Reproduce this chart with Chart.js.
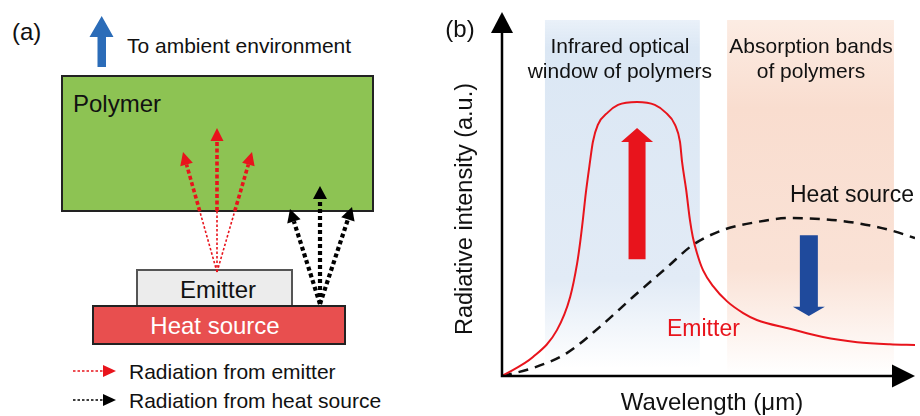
<!DOCTYPE html>
<html>
<head>
<meta charset="utf-8">
<script src="https://cdn.jsdelivr.net/npm/chart.js@4.4.0/dist/chart.umd.min.js"></script>
<style>
html, body { margin: 0; padding: 0; background: #fff; }
#wrap { position: relative; width: 920px; height: 416px; overflow: hidden; font-family: "Liberation Sans", Arial, sans-serif; }
#panelA { position: absolute; left: 0; top: 0; }
#panelB { position: absolute; left: 440px; top: 0; width: 480px; height: 416px; }
</style>
</head>
<body>
<div id="wrap">
  <svg id="panelA" width="440" height="416" xmlns="http://www.w3.org/2000/svg"></svg>
  <div id="panelB"><canvas id="spectrum" width="480" height="416"></canvas></div>
</div>
<script>
// spectra (wavelength and intensity both in a.u., 0-100)
const emitterWavelength = [0, 7.5, 13.3, 16.5, 18.2, 18.9, 19.6, 20.3, 21.3, 22.0, 23.2, 25.7, 28.1, 32.7, 37.0, 39.5, 41.9, 43.1, 43.6, 44.6, 45.5, 46.2, 47.2, 48.7, 51.1, 54.5, 58.4, 61.7, 69.7, 77.7, 86.0, 93.9, 100];
const emitterIntensity = [0, 5.2, 12.6, 21.7, 31.0, 36.5, 43.1, 50.3, 58.8, 64.3, 69.0, 72.5, 74.5, 75.3, 74.5, 72.5, 69.0, 64.3, 58.8, 51.1, 42.9, 38.2, 33.8, 29.0, 24.7, 20.5, 17.3, 15.4, 13.0, 10.7, 9.3, 8.7, 8.5];

const heatWavelength = [0, 7.5, 15.7, 23.7, 31.7, 40.0, 46.2, 53.5, 61.7, 69.7, 77.7, 86.0, 93.9, 100];
const heatIntensity = [0, 2.2, 6.3, 13.5, 21.7, 29.9, 36.0, 40.1, 42.3, 43.4, 43.1, 42.0, 40.1, 37.9];

// shaded wavelength bands
const bandStart = [10.4, 54.5];
const bandEnd = [47.9, 94.9];
const bandLabels = [["Infrared optical", "window of polymers"], ["Absorption bands", "of polymers"]];

const FONT = '"Liberation Sans", Arial, sans-serif';
const RED = "#e8141c";

// ---------- panel (a) : layer diagram ----------
const NS = "http://www.w3.org/2000/svg";
const svg = document.getElementById("panelA");

function el(tag, attrs, text) {
    const n = document.createElementNS(NS, tag);
    for (const k in attrs) n.setAttribute(k, attrs[k]);
    if (text) n.textContent = text;
    svg.appendChild(n);
    return n;
}

function txt(x, y, s, size, opts = {}) {
    return el("text", Object.assign({
        x: x, y: y, "font-size": size, "font-family": FONT,
        "dominant-baseline": "central", fill: "#111"
    }, opts), s);
}

function head(x0, y0, x1, y1, len, w, color) {
    const d = Math.hypot(x1 - x0, y1 - y0);
    const ux = (x1 - x0) / d, uy = (y1 - y0) / d;
    const bx = x1 - ux * len, by = y1 - uy * len;
    const pts = [[x1, y1], [bx - uy * w / 2, by + ux * w / 2], [bx + uy * w / 2, by - ux * w / 2]];
    el("polygon", { points: pts.map(p => p.join(",")).join(" "), fill: color });
    return [bx, by];
}

function seg(x0, y0, x1, y1, color, width, dash) {
    el("line", { x1: x0, y1: y0, x2: x1, y2: y1, stroke: color, "stroke-width": width, "stroke-dasharray": dash });
}

txt(12, 31, "(a)", 24);

// upward arrow to ambient
el("polygon", { points: "97.5,67 106,67 106,37 113.5,37 101.7,16 89.5,37 97.5,37", fill: "#2b6cb8" });
txt(127, 45, "To ambient environment", 21);

el("rect", { x: 62, y: 76, width: 311, height: 135, fill: "#8dc353", stroke: "#222", "stroke-width": 2 });
txt(73, 103, "Polymer", 24);

el("rect", { x: 137, y: 270, width: 155, height: 37, fill: "#ececec", stroke: "#555", "stroke-width": 2 });
el("rect", { x: 93, y: 306, width: 252, height: 38, fill: "#e84f4f", stroke: "#222", "stroke-width": 2 });
txt(218, 289, "Emitter", 24, { "text-anchor": "middle" });
txt(215, 325, "Heat source", 24, { "text-anchor": "middle", fill: "#fff" });

// radiation from emitter: thin below the polymer, thicker inside
const emitOrigin = [217, 272];
[[217, 128], [183, 152], [252, 152]].forEach(t => {
    const [bx, by] = head(emitOrigin[0], emitOrigin[1], t[0], t[1], 13, 13, RED);
    const f = (emitOrigin[1] - 211) / (emitOrigin[1] - by);
    const sx = emitOrigin[0] + (bx - emitOrigin[0]) * f;
    seg(emitOrigin[0], emitOrigin[1], sx, 211, RED, 1.6, "2.5 2");
    seg(sx, 211, bx, by, RED, 3.6, "4 2.5");
});

// radiation from heat source
const heatOrigin = [320, 304];
[[320, 186], [290, 209], [352, 207]].forEach(t => {
    const [bx, by] = head(heatOrigin[0], heatOrigin[1], t[0], t[1], 13, 14, "#000");
    seg(heatOrigin[0], heatOrigin[1], bx, by, "#000", 4.2, "4 3");
});

// legend
seg(73, 371, 104, 371, RED, 1.6, "2.5 2");
el("polygon", { points: "103,365 116,371 103,377", fill: RED });
txt(129, 371, "Radiation from emitter", 21);
seg(73, 400, 104, 400, "#000", 1.6, "2.5 2");
el("polygon", { points: "103,394 116,400 103,406", fill: "#000" });
txt(129, 400, "Radiation from heat source", 21);

// ---------- panel (b) : spectra ----------
function blockArrow(ctx, cx, tail, base, tip, shaftW, headW, color) {
    ctx.save();
    ctx.fillStyle = color;
    ctx.beginPath();
    ctx.moveTo(cx - shaftW / 2, tail);
    ctx.lineTo(cx - shaftW / 2, base);
    ctx.lineTo(cx - headW / 2, base);
    ctx.lineTo(cx, tip);
    ctx.lineTo(cx + headW / 2, base);
    ctx.lineTo(cx + shaftW / 2, base);
    ctx.lineTo(cx + shaftW / 2, tail);
    ctx.closePath();
    ctx.fill();
    ctx.restore();
}

const decor = {
    id: "decor",
    beforeDatasetsDraw(chart) {
        const { ctx, scales: { x, y } } = chart;
        const top = y.getPixelForValue(97.8);
        const colors = [
            [[0, "rgba(219,231,245,0.6)"], [0.08, "#dbe7f4"], [0.75, "#e2ebf6"], [1, "#ffffff"]],
            [[0, "#fcece3"], [0.25, "#f9ddcf"], [0.7, "#fae2d6"], [1, "#ffffff"]]
        ];
        const bottoms = [y.getPixelForValue(2.2), y.getPixelForValue(0.3)];
        bandStart.forEach((s, i) => {
            const l = x.getPixelForValue(s), r = x.getPixelForValue(bandEnd[i]);
            const g = ctx.createLinearGradient(0, top, 0, bottoms[i]);
            colors[i].forEach(c => g.addColorStop(c[0], c[1]));
            ctx.fillStyle = g;
            ctx.fillRect(l, top, r - l, bottoms[i] - top);
        });
    },
    afterDatasetsDraw(chart) {
        const { ctx, chartArea: a, scales: { x, y } } = chart;
        ctx.save();
        // axes with arrow heads
        ctx.strokeStyle = "#000";
        ctx.fillStyle = "#000";
        ctx.lineWidth = 2.5;
        ctx.beginPath();
        ctx.moveTo(a.left, a.top + 20);
        ctx.lineTo(a.left, a.bottom);
        ctx.lineTo(a.right - 22, a.bottom);
        ctx.stroke();
        ctx.beginPath();
        ctx.moveTo(a.left, a.top);
        ctx.lineTo(a.left + 11, a.top + 21);
        ctx.lineTo(a.left - 11, a.top + 21);
        ctx.closePath();
        ctx.fill();
        ctx.beginPath();
        ctx.moveTo(a.right, a.bottom);
        ctx.lineTo(a.right - 23, a.bottom - 11.5);
        ctx.lineTo(a.right - 23, a.bottom + 11.5);
        ctx.closePath();
        ctx.fill();

        // emitter goes up, heat source goes down
        blockArrow(ctx, x.getPixelForValue(32.7), y.getPixelForValue(32.1), y.getPixelForValue(64.3),
            y.getPixelForValue(68.1), 17, 32, RED);
        blockArrow(ctx, x.getPixelForValue(74.3), y.getPixelForValue(38.7), y.getPixelForValue(19.0),
            y.getPixelForValue(16.5), 18, 32, "#1f4a9c");

        // labels
        ctx.textBaseline = "middle";
        ctx.fillStyle = "#111";
        ctx.textAlign = "center";
        ctx.font = "21px " + FONT;
        const labelShift = [-2.5, 0.5];
        bandLabels.forEach((lines, i) => {
            const cx = (x.getPixelForValue(bandStart[i]) + x.getPixelForValue(bandEnd[i])) / 2;
            lines.forEach((s, j) => ctx.fillText(s, cx + labelShift[i], 47 + j * 25));
        });
        ctx.font = "24px " + FONT;
        ctx.fillText("(b)", 20, 30);
        ctx.fillText("Wavelength (\u03bcm)", 272, 403);
        ctx.textAlign = "left";
        ctx.font = "23px " + FONT;
        ctx.fillText("Heat source", 350, 196);
        ctx.fillStyle = RED;
        ctx.fillText("Emitter", 227, 330);
        ctx.fillStyle = "#111";
        ctx.translate(26, 209);
        ctx.rotate(-Math.PI / 2);
        ctx.textAlign = "center";
        ctx.font = "23.5px " + FONT;
        ctx.fillText("Radiative intensity (a.u.)", 0, 0);
        ctx.restore();
    }
};

new Chart(document.getElementById("spectrum"), {
    type: "line",
    data: {
        datasets: [
            {
                label: "Emitter",
                data: emitterWavelength.map((w, i) => ({ x: w, y: emitterIntensity[i] })),
                borderColor: RED,
                borderWidth: 2,
                pointRadius: 0,
                cubicInterpolationMode: "monotone",
                fill: false
            },
            {
                label: "Heat source",
                data: heatWavelength.map((w, i) => ({ x: w, y: heatIntensity[i] })),
                borderColor: "#111",
                borderWidth: 2.5,
                borderDash: [10, 7],
                pointRadius: 0,
                cubicInterpolationMode: "monotone",
                fill: false
            }
        ]
    },
    options: {
        responsive: false,
        animation: false,
        layout: { padding: { left: 62, right: 5, top: 12, bottom: 40 } },
        plugins: { legend: { display: false }, tooltip: { enabled: false } },
        scales: {
            x: { type: "linear", min: 0, max: 100, display: false },
            y: { min: 0, max: 100, display: false }
        }
    },
    plugins: [decor]
});
</script>
</body>
</html>
